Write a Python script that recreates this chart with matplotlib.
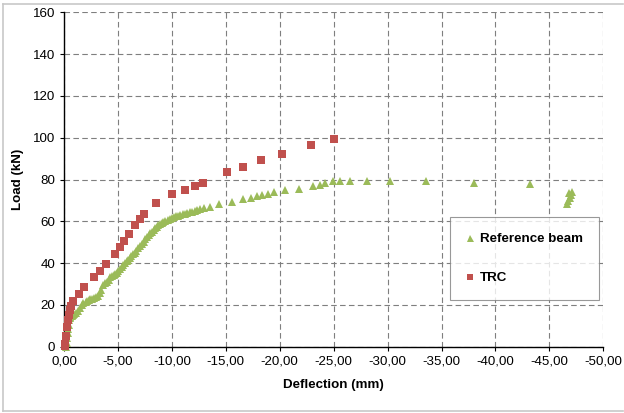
import matplotlib
matplotlib.use("Agg")
import matplotlib.pyplot as plt
from matplotlib.lines import Line2D

plt.rcParams['font.family'] = ['Liberation Sans', 'DejaVu Sans']

# TRC beam (red squares): deflection (mm), load (kN)
trc_defl = [-0.05, -0.1, -0.19, -0.3, -0.4, -0.46, -0.56, -0.65, -0.8, -1.4, -1.9,
            -2.8, -3.3, -3.9, -4.7, -5.2, -5.6, -6.0, -6.6, -7.0, -7.4, -8.5,
            -10.0, -11.2, -12.1, -12.9, -15.1, -16.6, -18.3, -20.2, -22.9, -25.0]
trc_load = [0.3, 1.5, 5.3, 9.4, 12.9, 15.3, 17.7, 19.6, 22.1, 25.3, 28.5,
            33.3, 36.3, 39.5, 44.4, 47.6, 50.8, 53.8, 58.3, 61.0, 63.5, 68.8,
            73.0, 75.0, 76.9, 78.5, 83.4, 86.0, 89.5, 92.3, 96.5, 99.3]

# Reference beam (green triangles)
ref_defl = [-0.2, -0.25, -0.3, -0.35, -0.4, -0.45, -0.5, -0.55, -0.6, -0.7, -0.8,
            -0.93, -1.1, -1.3, -1.5, -1.65, -1.8, -2.0, -2.15, -2.3, -2.45, -2.6,
            -2.8, -3.0, -3.15, -3.3, -3.45, -3.6, -3.8, -4.0, -4.15, -4.3, -4.45,
            -4.6, -4.75, -4.9, -5.05, -5.2, -5.35, -5.5, -5.65, -5.8, -5.95,
            -6.1, -6.25, -6.4, -6.55, -6.7, -6.85, -7.0, -7.2, -7.4, -7.55, -7.7,
            -7.85, -8.0, -8.15, -8.3, -8.45, -8.6, -8.75, -8.9, -9.05, -9.2,
            -9.4, -9.6, -9.8, -10.0, -10.2, -10.4, -10.6, -10.8, -11.0, -11.2,
            -11.45, -11.7, -11.9, -12.1, -12.35, -12.6, -13.0, -13.5, -14.4,
            -15.6, -16.6, -17.3, -17.9, -18.4, -18.9, -19.5, -20.5, -21.8, -23.1,
            -23.7, -24.2, -24.9, -25.6, -26.5, -28.1, -30.2, -33.6, -38.0, -43.2,
            -46.6, -46.7, -46.8, -46.9, -47.0, -47.1]
ref_load = [0.0, 2.0, 4.0, 6.5, 8.5, 10.5, 12.9, 13.8, 14.4, 14.9, 15.3,
            15.6, 16.2, 16.9, 18.5, 19.8, 20.8, 21.6, 22.0, 22.4, 22.9, 23.0,
            23.3, 23.7, 24.3, 25.5, 27.0, 29.6, 30.5, 31.0, 32.0, 33.3, 33.8,
            34.3, 34.8, 35.2, 36.0, 37.0, 38.0, 39.2, 40.0, 40.8, 41.6,
            42.4, 43.2, 44.2, 45.0, 46.0, 47.0, 48.0, 49.0, 50.3, 51.3, 52.3,
            53.3, 54.3, 55.0, 55.9, 56.7, 57.4, 58.0, 58.6, 59.2, 59.8,
            60.3, 60.7, 61.1, 61.5, 61.9, 62.3, 62.6, 63.0, 63.3, 63.6,
            64.0, 64.3, 64.6, 64.9, 65.3, 65.8, 66.3, 67.0, 68.4,
            69.4, 70.5, 71.3, 72.1, 72.7, 73.2, 73.9, 75.0, 75.6, 76.9,
            77.5, 78.5, 79.1, 79.4, 79.4, 79.4, 79.4, 79.4, 78.2, 77.7,
            68.3, 69.5, 73.5, 71.0, 72.5, 73.8]

xticks = [0, -5, -10, -15, -20, -25, -30, -35, -40, -45, -50]
yticks = [0, 20, 40, 60, 80, 100, 120, 140, 160]

fig = plt.figure(figsize=(6.24, 4.13), dpi=100)
ax = fig.add_axes([64 / 624, 1 - 346.7 / 413, (603.3 - 64) / 624, (346.7 - 12.3) / 413])

ax.plot(ref_defl, ref_load, linestyle='none', marker='^', color='#9bbb59',
        markersize=6.3, markeredgewidth=0, label='Reference beam', clip_on=False, zorder=3)
ax.plot(trc_defl, trc_load, linestyle='none', marker='s', color='#c0504d',
        markersize=5.4, markeredgewidth=0, label='TRC', clip_on=False, zorder=4)

ax.set_xlim(0, -50)
ax.set_ylim(0, 160)
ax.set_xticks(xticks)
ax.set_xticklabels([f"{v:.2f}".replace('.', ',') for v in xticks])
ax.set_yticks(yticks)
ax.tick_params(labelsize=9.6, length=3, width=0.8, color='black')

ax.grid(True, color='#7f7f7f', linestyle=(0, (5, 3)), linewidth=0.8)
ax.set_axisbelow(True)
for s in ['top', 'right']:
    ax.spines[s].set_visible(False)
for s in ['left', 'bottom']:
    ax.spines[s].set_linewidth(1.0)

ax.set_xlabel('Deflection (mm)', fontsize=9.6, fontweight='bold', labelpad=8)
ax.set_ylabel('Load (kN)', fontsize=9.6, fontweight='bold', labelpad=6)

leg = ax.legend(loc='upper left', bbox_to_anchor=((450 - 64) / 539, 1 - (217 - 12.3) / 334.4),
                frameon=True, fancybox=False, prop={'weight': 'bold', 'size': 9.6},
                handlelength=0.6, handletextpad=0.4, labelspacing=2.0,
                borderpad=1.2, markerscale=0.8, borderaxespad=0)
leg.get_frame().set_edgecolor('#7f7f7f')
leg.get_frame().set_linewidth(0.8)

# light outer border of the chart area
fig.add_artist(Line2D([3 / 624, 623 / 624], [1 - 4 / 413, 1 - 4 / 413], color='#c8c8c8', lw=1.2))
fig.add_artist(Line2D([3 / 624, 3 / 624], [1 - 4 / 413, 1 - 411 / 413], color='#c8c8c8', lw=1.2))
fig.add_artist(Line2D([3 / 624, 623 / 624], [1 - 411 / 413, 1 - 411 / 413], color='#c8c8c8', lw=1.2))

fig.savefig('out.png', dpi=100)
